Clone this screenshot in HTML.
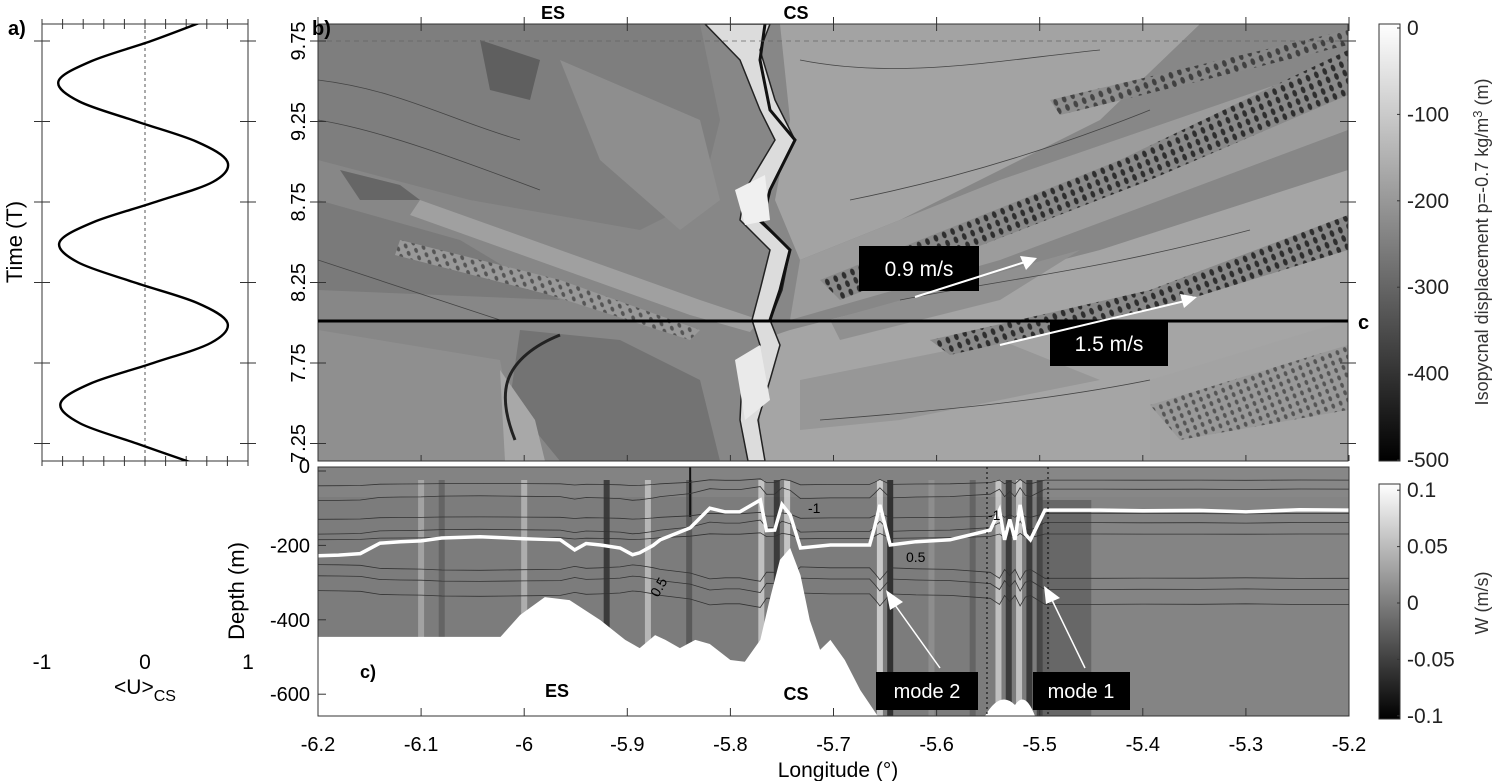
<!DOCTYPE html>
<html><head><meta charset="utf-8">
<style>
html,body{margin:0;padding:0;background:#fff;}
svg{display:block;font-family:"Liberation Sans",Arial,sans-serif;}
</style></head>
<body>
<svg id="fig" width="1498" height="781" viewBox="0 0 1498 781">
<defs>
  <pattern id="waves" width="9" height="9" patternUnits="userSpaceOnUse" patternTransform="rotate(-22)">
    <rect width="9" height="9" fill="#8a8a8a"/>
    <ellipse cx="4.5" cy="4.5" rx="2.2" ry="3.5" fill="#2e2e2e"/>
  </pattern>
  <pattern id="waves2" width="8" height="8" patternUnits="userSpaceOnUse" patternTransform="rotate(-22)">
    <rect width="8" height="8" fill="#999"/>
    <ellipse cx="4" cy="4" rx="1.8" ry="2.6" fill="#555"/>
  </pattern>
  <linearGradient id="cb1" x1="0" y1="0" x2="0" y2="1">
    <stop offset="0" stop-color="#fff"/><stop offset="1" stop-color="#000"/>
  </linearGradient>
  <linearGradient id="cb2" x1="0" y1="0" x2="0" y2="1">
    <stop offset="0" stop-color="#fff"/><stop offset="0.5" stop-color="#7f7f7f"/><stop offset="1" stop-color="#000"/>
  </linearGradient>
  <clipPath id="clipB"><rect x="318" y="24" width="1030" height="437"/></clipPath>
  <clipPath id="clipC"><rect x="318" y="467" width="1031" height="249"/></clipPath>
</defs>

<g>
  <rect x="42" y="24" width="206" height="437" fill="#fff" stroke="#333" stroke-width="1"/>
  <line x1="145" y1="24" x2="145" y2="461" stroke="#555" stroke-dasharray="3,3"/>
  <g id="aTicks"></g>
  <path id="uCurve" fill="none" stroke="#000" stroke-width="2.4"/>
  <text x="8" y="35" font-size="20" font-weight="bold">a)</text>
  <text x="42" y="669" font-size="21" text-anchor="middle">-1</text>
  <text x="145" y="669" font-size="21" text-anchor="middle">0</text>
  <text x="248" y="669" font-size="21" text-anchor="middle">1</text>
  <text x="145" y="694" font-size="21" text-anchor="middle">&lt;U&gt;<tspan font-size="16" dy="7">CS</tspan></text>
  <text transform="translate(22,242) rotate(-90)" font-size="22" text-anchor="middle">Time (T)</text>
</g>

<g>
  <g clip-path="url(#clipB)">
    <rect x="318" y="24" width="1030" height="437" fill="#878787"/>
    <path d="M318 24 L700 24 L720 120 L700 200 L640 230 L470 200 L318 160 Z" fill="#7e7e7e"/>
    <path d="M318 200 L460 240 L560 300 L318 290 Z" fill="#7a7a7a"/>
    <path d="M480 40 L540 60 L530 100 L490 90 Z" fill="#5f5f5f"/>
    <path d="M340 170 L400 185 L420 200 L360 200 Z" fill="#666"/>
    <path d="M520 330 L620 340 L700 380 L720 461 L560 461 L510 400 Z" fill="#737373"/>
    <path d="M318 330 L500 360 L520 461 L318 461 Z" fill="#8f8f8f"/>
    <path d="M500 370 L535 420 L545 461 L505 461 Z" fill="#a8a8a8"/>
    <path d="M420 200 L560 250 L700 300 L760 320 L750 332 L690 315 L550 265 L410 215 Z" fill="#a0a0a0"/>
    <path d="M560 60 L700 120 L720 200 L680 230 L600 160 Z" fill="#8e8e8e"/>
    <path d="M780 24 L1200 24 L1100 120 L900 220 L800 260 L775 200 L790 120 Z" fill="#a3a3a3"/>
    <path d="M800 260 L1000 180 L1348 60 L1348 130 L1000 260 L790 320 Z" fill="#9c9c9c"/>
    <path d="M790 330 L1100 250 L1348 170 L1348 461 L760 461 L760 340 Z" fill="#a5a5a5"/>
    <path d="M830 320 L1080 250 L1000 300 L840 340 Z" fill="#909090"/>
    <path d="M1150 380 L1348 320 L1348 461 L1150 461 Z" fill="#a3a3a3"/>
    <path d="M800 380 L1000 340 L1100 380 L900 420 L800 430 Z" fill="#979797"/>
    <path d="M820 280 L1120 160 L1348 50 L1348 95 L1150 180 L840 300 Z" fill="url(#waves)"/>
    <path d="M1050 100 L1348 30 L1348 45 L1060 115 Z" fill="url(#waves)" opacity="0.8"/>
    <path d="M930 340 L1150 290 L1348 215 L1348 250 L1170 305 L950 355 Z" fill="url(#waves)"/>
    <path d="M1150 405 L1348 345 L1348 410 L1180 440 Z" fill="url(#waves2)"/>
    <path d="M400 240 L560 280 L700 330 L690 340 L550 295 L395 255 Z" fill="url(#waves2)"/>
    <path d="M705 24 L740 60 L760 110 L775 140 L745 190 L740 220 L770 250 L760 290 L752 320 L760 345 L742 380 L740 420 L748 461 L765 461 L758 420 L770 380 L780 345 L770 320 L782 290 L790 250 L760 222 L770 190 L795 140 L775 100 L760 50 L770 24 Z" fill="#dcdcdc" stroke="#222" stroke-width="1.5"/>
    <path d="M765 24 L760 60 L770 110 L795 140 L770 190 L762 222 L790 250 L780 290 L770 320" fill="none" stroke="#111" stroke-width="3"/>
    <path d="M735 190 L765 175 L770 220 L745 225 Z" fill="#f0f0f0"/>
    <path d="M735 360 L760 345 L770 400 L745 420 Z" fill="#eaeaea"/>
    <path d="M560 335 C535 345 515 360 508 380 C503 395 505 415 515 440" fill="none" stroke="#222" stroke-width="3"/>
    <path d="M318 80 C400 90 450 120 520 140 M318 120 C380 130 460 160 540 190 M318 260 C380 280 440 300 500 320 M800 60 C900 80 1000 60 1100 50 M850 200 C950 180 1050 150 1150 110 M820 420 C950 410 1050 400 1150 380 M900 300 C1000 280 1100 270 1250 230" fill="none" stroke="#444" stroke-width="0.8"/>
    <line x1="318" y1="41" x2="1348" y2="41" stroke="#666" stroke-dasharray="5,4" stroke-width="0.8"/>
  </g>
  <rect x="318" y="24" width="1030" height="437" fill="none" stroke="#333" stroke-width="1"/>
  <line x1="318" y1="321" x2="1348" y2="321" stroke="#000" stroke-width="3"/>
  <g id="bTicks"></g>
  <text x="312" y="35" font-size="20" font-weight="bold">b)</text>
  <text x="553" y="19" font-size="18" font-weight="bold" text-anchor="middle">ES</text>
  <text x="796" y="19" font-size="18" font-weight="bold" text-anchor="middle">CS</text>
  <text x="1358" y="329" font-size="20" font-weight="bold">c</text>
  <g>
    <rect x="859" y="246" width="120" height="45" fill="#000"/>
    <text x="919" y="276" font-size="21" fill="#fff" text-anchor="middle">0.9 m/s</text>
    <line x1="915" y1="297" x2="1025" y2="262" stroke="#fff" stroke-width="2"/>
    <polygon points="1037,258 1020,256 1026,270" fill="#fff"/>
  </g>
  <g>
    <rect x="1050" y="321" width="118" height="45" fill="#000"/>
    <text x="1109" y="351" font-size="21" fill="#fff" text-anchor="middle">1.5 m/s</text>
    <line x1="1000" y1="345" x2="1185" y2="301" stroke="#fff" stroke-width="2"/>
    <polygon points="1197,297 1180,294 1184,308" fill="#fff"/>
  </g>
</g>

<g>
  <rect x="1379" y="24" width="21" height="437" fill="url(#cb1)" stroke="#333"/>
  <g id="cb1Ticks"></g>
  <text transform="translate(1488,242) rotate(-90)" font-size="18" text-anchor="middle" fill="#333">Isopycnal displacement p=-0.7 kg/m<tspan font-size="13" dy="-6">3</tspan><tspan dy="6"> (m)</tspan></text>
</g>

<g>
  <g clip-path="url(#clipC)">
    <rect x="318" y="467" width="1031" height="249" fill="#7c7c7c"/>
    <rect x="1050" y="467" width="299" height="249" fill="#848484"/>
    <rect x="318" y="467" width="1031" height="30" fill="#8a8a8a" opacity="0.5"/>
    <g id="stripes"></g>
    <g id="cContours"></g>
    <path id="bathy" fill="#fff"/>
    <path d="M985 716 Q1000 690 1015 705 Q1025 690 1035 716 Z" fill="#fff"/>
    <path id="whiteLine" fill="none" stroke="#fff" stroke-width="3.5"/>
  </g>
  <rect x="318" y="467" width="1031" height="249" fill="none" stroke="#333"/>
  <line x1="987" y1="467" x2="987" y2="716" stroke="#000" stroke-dasharray="2,3"/>
  <line x1="1048" y1="467" x2="1048" y2="716" stroke="#000" stroke-dasharray="2,3"/>
  <g id="cTicks"></g>
  <text x="808" y="513" font-size="14">-1</text>
  <text x="988" y="520" font-size="14">-1</text>
  <text x="906" y="562" font-size="14">0.5</text>
  <text transform="translate(658,598) rotate(-60)" font-size="14">0.5</text>
  <text x="360" y="678" font-size="18" font-weight="bold">c)</text>
  <text x="557" y="697" font-size="18" font-weight="bold" text-anchor="middle">ES</text>
  <text x="796" y="700" font-size="18" font-weight="bold" text-anchor="middle">CS</text>
  <g>
    <rect x="876" y="672" width="102" height="38" fill="#000"/>
    <text x="927" y="698" font-size="20" fill="#fff" text-anchor="middle">mode 2</text>
    <line x1="940" y1="668" x2="895" y2="605" stroke="#fff" stroke-width="1.5"/>
    <polygon points="886,590 903,602 890,610" fill="#fff"/>
  </g>
  <g>
    <rect x="1033" y="672" width="97" height="38" fill="#000"/>
    <text x="1081" y="698" font-size="20" fill="#fff" text-anchor="middle">mode 1</text>
    <line x1="1085" y1="668" x2="1052" y2="600" stroke="#fff" stroke-width="1.5"/>
    <polygon points="1044,586 1060,598 1046,604" fill="#fff"/>
  </g>
  <text transform="translate(244,591) rotate(-90)" font-size="22" text-anchor="middle">Depth (m)</text>
  <text x="838" y="777" font-size="21" text-anchor="middle">Longitude (°)</text>
</g>

<g>
  <rect x="1379" y="484" width="21" height="235" fill="url(#cb2)" stroke="#333"/>
  <g id="cb2Ticks"></g>
  <text transform="translate(1488,603) rotate(-90)" font-size="18" text-anchor="middle" fill="#333">W (m/s)</text>
</g>
</svg>

<script>
const timeVals = [7.125,7.25,7.375,7.5,7.625,7.75,7.875,8.0,8.125,8.25,8.375,8.5,8.625,8.75,8.875,9.0,9.125,9.25,9.375,9.5,9.625,9.75,9.875];
const uVals   = [0.48,-0.08,-0.63,-0.82,-0.52,0.08,0.64,0.80,0.50,-0.10,-0.65,-0.83,-0.50,0.10,0.66,0.80,0.50,-0.08,-0.64,-0.84,-0.52,0.06,0.58];
const timeTicks = [7.25,7.75,8.25,8.75,9.25,9.75];
const timeTickLabels = ["7.25","7.75","8.25","8.75","9.25","9.75"];
const lonTicks = [-6.2,-6.1,-6.0,-5.9,-5.8,-5.7,-5.6,-5.5,-5.4,-5.3,-5.2];
const lonTickLabels = ["-6.2","-6.1","-6","-5.9","-5.8","-5.7","-5.6","-5.5","-5.4","-5.3","-5.2"];
const depthTicks = [0,-200,-400,-600];
const depthTickLabels = ["0","-200","-400","-600"];
const lineLon = [-6.2,-6.18,-6.159,-6.14,-6.12,-6.1,-6.08,-6.043,-6.0,-5.965,-5.951,-5.94,-5.926,-5.907,-5.895,-5.888,-5.875,-5.868,-5.839,-5.82,-5.805,-5.791,-5.771,-5.765,-5.757,-5.75,-5.742,-5.732,-5.703,-5.665,-5.66,-5.655,-5.645,-5.62,-5.587,-5.548,-5.539,-5.534,-5.529,-5.524,-5.519,-5.514,-5.509,-5.495,-5.441,-5.4,-5.345,-5.3,-5.248,-5.2];
const lineDepth = [-228,-226,-222,-194,-190,-188,-180,-177,-182,-185,-212,-195,-199,-207,-225,-220,-200,-185,-153,-100,-110,-110,-78,-160,-159,-90,-118,-207,-199,-199,-150,-91,-199,-190,-185,-159,-105,-185,-130,-185,-91,-170,-185,-105,-105,-107,-106,-110,-104,-105];
const bathyLon = [-6.2,-6.023,-6.004,-5.98,-5.956,-5.926,-5.902,-5.888,-5.873,-5.863,-5.849,-5.834,-5.82,-5.8,-5.786,-5.771,-5.762,-5.752,-5.742,-5.732,-5.723,-5.713,-5.703,-5.689,-5.674,-5.657];
const bathyDepth = [-446,-446,-387,-339,-347,-401,-454,-476,-441,-454,-476,-454,-465,-508,-513,-454,-347,-239,-207,-280,-401,-481,-454,-508,-589,-659];
const stripeLon = [-6.1,-6.08,-6.0,-5.92,-5.88,-5.84,-5.77,-5.755,-5.745,-5.655,-5.645,-5.605,-5.565,-5.54,-5.53,-5.52,-5.51,-5.5];
const stripeShade = ["#bdbdbd","#555","#cfcfcf","#111","#ddd","#444","#eee","#111","#f5f5f5","#fff","#000","#999","#555","#eee","#111","#f0f0f0","#111","#222"];
const cb1Vals = [0,-100,-200,-300,-400,-500];
const cb1Labels = ["0","-100","-200","-300","-400","-500"];
const cb2Vals = [0.1,0.05,0,-0.05,-0.1];
const cb2Labels = ["0.1","0.05","0","-0.05","-0.1"];

const NS = "http://www.w3.org/2000/svg";
const xA = u => 145 + u*103;
const yT = t => 41 + (9.75 - t)*161;
const xL = lon => 318 + (lon + 6.2)*1031;
const yD = d => 471 - d*0.372;
const yCb1 = v => 28 + (-v)*0.864;
const yCb2 = v => 603 - v*1128;

function mk(tag, attrs, parent){const e=document.createElementNS(NS,tag);for(const k in attrs)e.setAttribute(k,attrs[k]);parent.appendChild(e);return e;}

const uc = document.getElementById("uCurve");
(function(){
  const pts = timeVals.map((t,i)=>[xA(uVals[i]), yT(t)]);
  let s = "M"+pts[0][0]+" "+pts[0][1];
  for(let i=0;i<pts.length-1;i++){
    const p0=pts[Math.max(0,i-1)],p1=pts[i],p2=pts[i+1],p3=pts[Math.min(pts.length-1,i+2)];
    s+=" C"+(p1[0]+(p2[0]-p0[0])/6)+" "+(p1[1]+(p2[1]-p0[1])/6)+" "+(p2[0]-(p3[0]-p1[0])/6)+" "+(p2[1]-(p3[1]-p1[1])/6)+" "+p2[0]+" "+p2[1];
  }
  uc.setAttribute("d", s);
})();
const clipA = mk("clipPath",{id:"clipA"},document.querySelector("defs"));
mk("rect",{x:42,y:24,width:206,height:437},clipA);
uc.setAttribute("clip-path","url(#clipA)");

const aT = document.getElementById("aTicks");
timeTicks.forEach((t,i)=>{
  const y = yT(t);
  const l1 = mk("line",{x1:34,y1:y,x2:50,y2:y,stroke:"#333"},aT);
  
  
  mk("line",{x1:240,y1:y,x2:256,y2:y,stroke:"#333"},aT);
  const tx = mk("text",{transform:"translate(305,"+y+") rotate(-90)","font-size":20,"text-anchor":"middle"},aT);
  tx.textContent = timeTickLabels[i];
  
  
});
for(let u=-1;u<=1.001;u+=0.2){
  const x=xA(u);
  mk("line",{x1:x,y1:19,x2:x,y2:29,stroke:"#333"},aT);
  mk("line",{x1:x,y1:456,x2:x,y2:466,stroke:"#333"},aT);
}

const bT = document.getElementById("bTicks");
timeTicks.forEach(t=>{
  const y=yT(t);
  mk("line",{x1:310,y1:y,x2:326,y2:y,stroke:"#333"},bT);
  mk("line",{x1:1340,y1:y,x2:1356,y2:y,stroke:"#333"},bT);
});
lonTicks.forEach(l=>{
  const x=xL(l);
  mk("line",{x1:x,y1:17,x2:x,y2:31,stroke:"#333"},bT);
  mk("line",{x1:x,y1:455,x2:x,y2:461,stroke:"#333"},bT);
});

const c1 = document.getElementById("cb1Ticks");
cb1Vals.forEach((v,i)=>{
  const y=yCb1(v);
  mk("line",{x1:1397,y1:y,x2:1400,y2:y,stroke:"#333"},c1);
  const t=mk("text",{x:1407,y:y+7,"font-size":21,fill:"#222"},c1);
  t.textContent=cb1Labels[i];
  
  
});
const c2 = document.getElementById("cb2Ticks");
cb2Vals.forEach((v,i)=>{
  const y=yCb2(v);
  mk("line",{x1:1397,y1:y,x2:1400,y2:y,stroke:"#333"},c2);
  const t=mk("text",{x:1407,y:y+7,"font-size":21,fill:"#222"},c2);
  t.textContent=cb2Labels[i];
  
  
});

const st = document.getElementById("stripes");
stripeLon.forEach((l,i)=>{
  const r = mk("rect",{x:xL(l)-3,y:480,width:6,height:236,fill:stripeShade[i],opacity:0.6},st);
  
  
});
mk("rect",{x:xL(-5.5),y:500,width:xL(-5.45)-xL(-5.5),height:216,fill:"#4a4a4a",opacity:0.5},st);
mk("rect",{x:xL(-5.84),y:467,width:2,height:50,fill:"#111"},st);

const cc = document.getElementById("cContours");
[-30,-60,-120,-150,-175,-260,-290,-330].forEach((dep,k)=>{
  let s="";
  for(let i=0;i<lineLon.length;i++){
    const base = dep<-200 ? dep - (lineDepth[i]+200)*0.3 : dep + (lineDepth[i]+150)*0.25*(k%2?1:0.5);
    s+=(i?" L":"M")+xL(lineLon[i]).toFixed(1)+" "+yD(base).toFixed(1);
  }
  const p=mk("path",{d:s,fill:"none",stroke:"#333","stroke-width":0.8},cc);
  
  
});

let bd = "M"+xL(bathyLon[0])+" 720";
bathyLon.forEach((l,i)=>{ bd += " L"+xL(l).toFixed(1)+" "+yD(bathyDepth[i]).toFixed(1); });
bd += " L"+xL(bathyLon[bathyLon.length-1])+" 720 Z";
document.getElementById("bathy").setAttribute("d", bd);

let wl="";
lineLon.forEach((l,i)=>{ wl+=(i?" L":"M")+xL(l).toFixed(1)+" "+yD(lineDepth[i]).toFixed(1); });
document.getElementById("whiteLine").setAttribute("d", wl);

const cT = document.getElementById("cTicks");
lonTicks.forEach((l,i)=>{
  const x=xL(l);
  mk("line",{x1:x,y1:708,x2:x,y2:716,stroke:"#333"},cT);
  const t=mk("text",{x:x,y:751,"font-size":20,"text-anchor":"middle"},cT);
  t.textContent=lonTickLabels[i];
  
  
});
depthTicks.forEach((dv,i)=>{
  const y=yD(dv);
  mk("line",{x1:318,y1:y,x2:326,y2:y,stroke:"#333"},cT);
  const t=mk("text",{x:310,y:(i===0?y+2:y+7),"font-size":20,"text-anchor":"end"},cT);
  t.textContent=depthTickLabels[i];
  
  
});
</script>
</body></html>
